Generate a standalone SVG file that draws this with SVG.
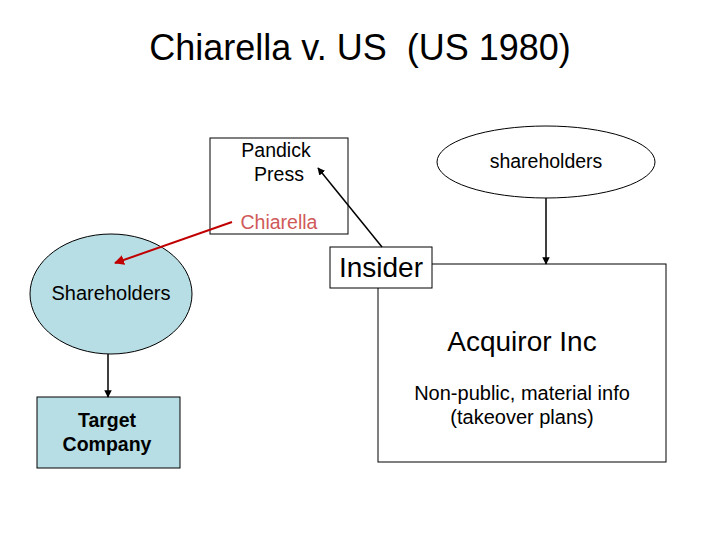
<svg xmlns="http://www.w3.org/2000/svg" width="720" height="540" viewBox="0 0 720 540">
<style>
text{font-family:"Liberation Sans",Arial,sans-serif;fill:#000;text-anchor:middle}
.box{fill:#fff;stroke:#000;stroke-width:1}
.blue{fill:#b7dee4;stroke:#000;stroke-width:1}
.conn{stroke:#000;stroke-width:1.5;fill:none}
</style>
<defs>
<marker id="ah" viewBox="0 0 10 10" refX="9" refY="5" markerWidth="5" markerHeight="5" orient="auto"><path d="M0,0 L10,5 L0,10 z" fill="#000"/></marker>
<marker id="ahr" viewBox="0 0 10 10" refX="9" refY="5" markerWidth="5" markerHeight="5" orient="auto"><path d="M0,0 L10,5 L0,10 z" fill="#c00000"/></marker>
</defs>
<rect width="720" height="540" fill="#fff"/>
<text x="360" y="60" font-size="36">Chiarella v. US&#160; (US 1980)</text>
<g id="pandick">
<rect class="box" x="210" y="138" width="138" height="96"/>
<text x="276" y="157" font-size="19.5">Pandick</text>
<text x="279" y="181" font-size="19.5">Press</text>
<text x="279" y="229" font-size="19.5" style="fill:#d05a5a">Chiarella</text>
</g>
<g id="shareholders-acq">
<ellipse class="box" cx="546" cy="162" rx="109" ry="36"/>
<text x="546" y="168" font-size="19.5">shareholders</text>
</g>
<g id="acquiror">
<rect class="box" x="378" y="264" width="288" height="198"/>
<text x="522" y="351" font-size="28">Acquiror Inc</text>
<text x="522" y="400" font-size="20">Non-public, material info</text>
<text x="522" y="424" font-size="20">(takeover plans)</text>
</g>
<g id="insider">
<rect class="box" x="330" y="247" width="102" height="41"/>
<text x="381" y="277" font-size="28">Insider</text>
</g>
<g id="shareholders-target">
<ellipse class="blue" cx="111" cy="294" rx="81" ry="60"/>
<text x="111" y="300" font-size="20">Shareholders</text>
</g>
<g id="target">
<rect class="blue" x="37" y="397" width="143" height="71"/>
<text x="107" y="427" font-size="19.5" font-weight="bold">Target</text>
<text x="107" y="451" font-size="19.5" font-weight="bold">Company</text>
</g>
<g id="connectors">
<line class="conn" x1="546" y1="198" x2="546" y2="264" marker-end="url(#ah)"/>
<line class="conn" x1="108" y1="354" x2="108" y2="397" marker-end="url(#ah)"/>
<line class="conn" x1="382" y1="247" x2="318" y2="168" marker-end="url(#ah)"/>
<line x1="232" y1="222" x2="115" y2="263" stroke="#c00000" stroke-width="2" marker-end="url(#ahr)"/>
</g>
</svg>
